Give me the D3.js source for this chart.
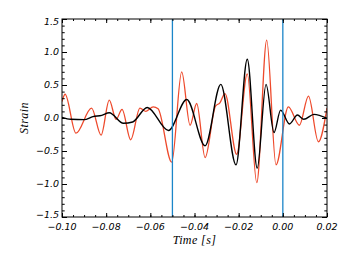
<!DOCTYPE html>
<html>
<head>
<meta charset="utf-8">
<script src="https://cdn.jsdelivr.net/npm/d3@7"></script>
<style>
  body { margin: 0; background: #fff; }
  .tick-label { font-family: 'DejaVu Sans', sans-serif; font-style: italic; font-size: 9.5px; fill: #000; }
  .axis-title { font-family: 'Liberation Serif', serif; font-style: italic; font-size: 12px; fill: #000; letter-spacing: 0.4px; }
</style>
</head>
<body>
<div id="chart"></div>
<script>
// strain traces (time in s)
const redTime = [-0.1000, -0.0986, -0.0937, -0.0866, -0.0823, -0.0786, -0.0755, -0.0728, -0.0689,
  -0.0647, -0.0620, -0.0587, -0.0565, -0.0503, -0.0458, -0.0420, -0.0390, -0.0352, -0.0305,
  -0.0285, -0.0262, -0.0209, -0.0161, -0.0118, -0.0073, -0.0031, 0.0025, 0.0075, 0.0116,
  0.0161, 0.0200];
const redStrain = [0.25, 0.36, -0.23, 0.15, -0.26, 0.27, -0.02, 0.13, -0.33,
  0.15, 0.10, 0.17, 0.14, -0.67, 0.70, -0.11, 0.22, -0.60, 0.18,
  0.23, 0.37, -0.55, 0.67, -0.98, 1.18, -0.71, 0.17, -0.11, 0.33,
  -0.36, 0.15];

const blackTime = [-0.1000, -0.0960, -0.0900, -0.0860, -0.0820, -0.0786, -0.0722, -0.0680,
  -0.0614, -0.0518, -0.0435, -0.0352, -0.0281, -0.0212, -0.0161, -0.0116, -0.0076, -0.0040,
  -0.0010, 0.0030, 0.0066, 0.0095, 0.0141, 0.0200];
const blackStrain = [0.01, -0.02, -0.025, 0.02, 0.04, 0.08, -0.08, -0.06,
  0.16, -0.19, 0.28, -0.42, 0.51, -0.71, 0.89, -0.76, 0.51, -0.22,
  0.12, -0.09, 0.045, -0.02, 0.055, -0.005];

const markerTimes = [-0.05, 0.00];
const xTicks = [-0.10, -0.08, -0.06, -0.04, -0.02, 0.00, 0.02];
const yTicks = [-1.5, -1.0, -0.5, 0.0, 0.5, 1.0, 1.5];

const W = 354, H = 263;
const margin = { top: 19, right: 27, bottom: 46, left: 62 };
const width = W - margin.left - margin.right;
const height = H - margin.top - margin.bottom;

const svg = d3.select('#chart').append('svg')
  .attr('width', W)
  .attr('height', H);

const g = svg.append('g')
  .attr('transform', `translate(${margin.left},${margin.top})`);

const x = d3.scaleLinear().domain([-0.10, 0.02]).range([0, width]);
const y = d3.scaleLinear().domain([-1.5, 1.5]).range([height, 0]);

g.append('clipPath').attr('id', 'clip')
  .append('rect').attr('width', width).attr('height', height);

const line = d3.line()
  .x((d) => x(d[0]))
  .y((d) => y(d[1]))
  .curve(d3.curveMonotoneX);

const plot = g.append('g').attr('clip-path', 'url(#clip)');

plot.append('path')
  .datum(d3.zip(redTime, redStrain))
  .attr('d', line)
  .attr('fill', 'none')
  .attr('stroke', '#ee4a2c')
  .attr('stroke-width', 1.3);

plot.append('path')
  .datum(d3.zip(blackTime, blackStrain))
  .attr('d', line)
  .attr('fill', 'none')
  .attr('stroke', '#000')
  .attr('stroke-width', 1.4);

// vertical markers
g.selectAll('.marker')
  .data(markerTimes)
  .enter().append('line')
  .attr('class', 'marker')
  .attr('x1', (d) => x(d)).attr('x2', (d) => x(d))
  .attr('y1', 0).attr('y2', height)
  .attr('stroke', '#1b86c9')
  .attr('stroke-width', 1.3);

// axes: ticks inward on all four sides
const xMinor = d3.range(-0.10, 0.0201, 0.005);
const yMinor = d3.range(-1.5, 1.501, 0.1);

function axisX(ticks, len, yPos, dir) {
  g.append('g')
    .call(d3.axisBottom(x).tickValues(ticks).tickSize(len).tickFormat(''))
    .attr('transform', `translate(0,${yPos})`)
    .call((a) => a.select('.domain').remove())
    .call((a) => a.selectAll('line').attr('y2', dir * len).attr('stroke', '#000'));
}
function axisY(ticks, len, xPos, dir) {
  g.append('g')
    .call(d3.axisLeft(y).tickValues(ticks).tickSize(len).tickFormat(''))
    .attr('transform', `translate(${xPos},0)`)
    .call((a) => a.select('.domain').remove())
    .call((a) => a.selectAll('line').attr('x2', dir * len).attr('stroke', '#000'));
}
axisX(xMinor, 2, height, -1);
axisX(xTicks, 4, height, -1);
axisX(xMinor, 2, 0, 1);
axisX(xTicks, 4, 0, 1);
axisY(yMinor, 2.7, 0, 1);
axisY(yTicks, 5, 0, 1);
axisY(yMinor, 2.7, width, -1);
axisY(yTicks, 5, width, -1);

g.append('rect')
  .attr('width', width).attr('height', height)
  .attr('fill', 'none').attr('stroke', '#000').attr('stroke-width', 1);

const fmt = d3.format('.2f');
g.selectAll('.xlab')
  .data(xTicks)
  .enter().append('text')
  .attr('class', 'tick-label')
  .attr('x', (d) => x(d))
  .attr('y', height + 13)
  .attr('text-anchor', 'middle')
  .text((d) => fmt(d).replace('-', '\u2212'));

const fmtY = d3.format('.1f');
g.selectAll('.ylab')
  .data(yTicks)
  .enter().append('text')
  .attr('class', 'tick-label')
  .attr('x', -3)
  .attr('y', (d) => y(d) + (d === 1.5 ? 3 : d === -1.5 ? -2.5 : 0))
  .attr('dy', '0.35em')
  .attr('text-anchor', 'end')
  .text((d) => fmtY(d).replace('-', '\u2212'));

g.append('text')
  .attr('class', 'axis-title')
  .attr('x', width / 2)
  .attr('y', height + 27)
  .attr('text-anchor', 'middle')
  .text('Time [s]');

g.append('text')
  .attr('class', 'axis-title')
  .attr('transform', `translate(${-34},${height / 2}) rotate(-90)`)
  .attr('text-anchor', 'middle')
  .text('Strain');
</script>
</body>
</html>
